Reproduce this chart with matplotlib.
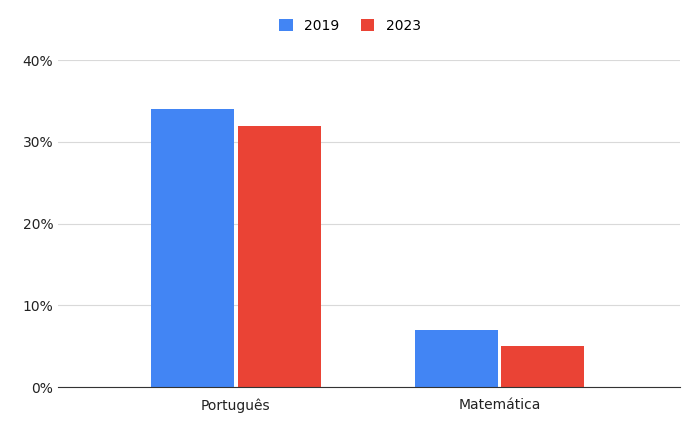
import matplotlib.pyplot as plt
import numpy as np

categories = ["Português", "Matemática"]
years = ["2019", "2023"]
values_2019 = [34, 7]
values_2023 = [32, 5]
colors = ["#4285F4", "#EA4335"]

fig = plt.figure(figsize=(7, 4.33), dpi=100)
ax = fig.add_axes([0.083, 0.106, 0.888, 0.755])

x = np.arange(len(categories))
w = 0.315
ax.bar(x - w / 2 - 0.006, values_2019, w, color=colors[0], label=years[0])
ax.bar(x + w / 2 + 0.006, values_2023, w, color=colors[1], label=years[1])

ax.set_xlim(-0.674, 1.682)
ax.set_ylim(0, 40)
ax.set_yticks([0, 10, 20, 30, 40])
ax.set_yticklabels([f"{v}%" for v in [0, 10, 20, 30, 40]])
ax.set_xticks(x)
ax.set_xticklabels(categories)
ax.grid(axis="y", color="#d9d9d9", linewidth=0.8)
ax.set_axisbelow(True)
for s in ["top", "right", "left"]:
    ax.spines[s].set_visible(False)
ax.spines["bottom"].set_color("#333333")
ax.tick_params(length=0, labelsize=10, colors="#222222")
ax.tick_params(axis="x", pad=8)

fig.legend(loc="upper center", bbox_to_anchor=(0.5, 0.985), ncol=2, frameon=False,
           handlelength=1.0, handleheight=1.0, fontsize=10, columnspacing=1.5)

fig.savefig("out.png")
